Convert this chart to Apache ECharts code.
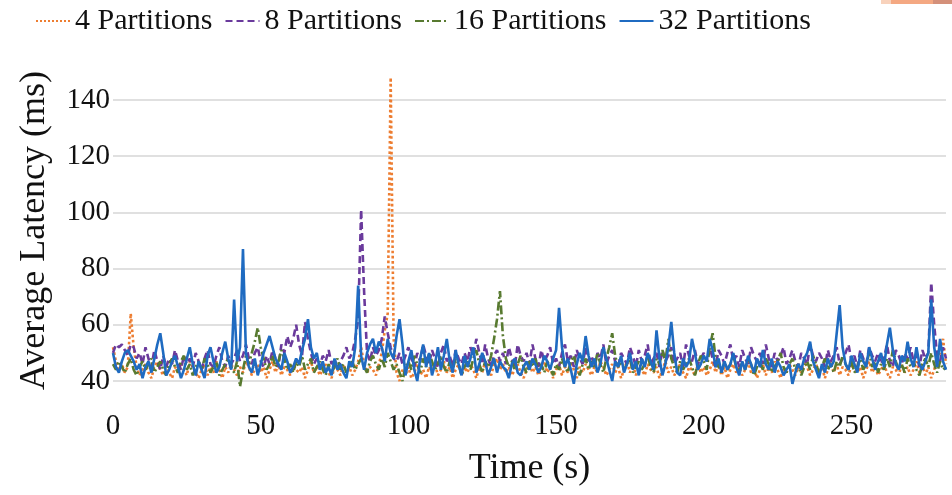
<!DOCTYPE html>
<html>
<head>
<meta charset="utf-8">
<script src="https://cdn.jsdelivr.net/npm/echarts@6/dist/echarts.min.js"></script>
<style>
  html, body { margin: 0; padding: 0; background: #fff; }
  #main { width: 952px; height: 495px; }
</style>
</head>
<body>
<div id="main"></div>
<script>
  // average latency per second (t = index in seconds)
  const p4 = [
    52, 47, 44, 46, 43, 45, 64, 52, 45, 42,
    44, 46, 43, 41, 45, 47, 44, 42, 46, 43,
    41, 45, 43, 46, 44, 42, 47, 45, 43, 41,
    44, 46, 42, 45, 43, 47, 44, 41, 45, 43,
    46, 44, 42, 45, 43, 47, 45, 42, 44, 46,
    43, 45, 41, 44, 47, 43, 46, 42, 45, 44,
    42, 46, 44, 43, 45, 41, 44, 47, 43, 45,
    42, 44, 46, 43, 41, 45, 44, 42, 46, 43,
    45, 42, 44, 47, 52, 46, 43, 45, 44, 42,
    46, 50, 58, 64, 148, 55, 43, 40, 44, 42,
    45, 41, 43, 46, 42, 44, 41, 45, 43, 46,
    42, 44, 47, 43, 45, 41, 44, 46, 42, 45,
    43, 46, 44, 41, 45, 43, 47, 44, 42, 46,
    48, 44, 46, 43, 45, 42, 44, 46, 43, 41,
    44, 46, 43, 45, 42, 44, 47, 43, 45, 41,
    44, 46, 42, 45, 43, 47, 44, 41, 45, 43,
    46, 44, 42, 45, 43, 47, 45, 42, 44, 46,
    43, 45, 41, 44, 47, 43, 46, 42, 45, 44,
    42, 46, 44, 43, 45, 41, 44, 47, 43, 45,
    42, 44, 46, 43, 41, 45, 44, 42, 46, 43,
    45, 42, 44, 47, 43, 46, 42, 45, 41, 44,
    46, 43, 45, 42, 44, 47, 43, 45, 41, 44,
    46, 42, 45, 43, 47, 44, 41, 45, 43, 46,
    44, 42, 45, 43, 47, 45, 42, 44, 46, 43,
    45, 41, 44, 47, 43, 46, 42, 45, 44, 42,
    46, 44, 43, 45, 41, 44, 47, 43, 45, 42,
    44, 46, 43, 41, 45, 44, 42, 46, 43, 45,
    42, 44, 47, 43, 46, 42, 45, 41, 44, 48,
    50, 55, 46
  ]
  const p8 = [
    50, 53, 52, 53, 51, 49, 53, 52, 48, 50,
    46, 52, 48, 45, 51, 47, 44, 49, 45, 48,
    46, 51, 47, 44, 49, 46, 48, 45, 50, 47,
    44, 48, 51, 46, 45, 49, 52, 47, 45, 49,
    46, 48, 51, 47, 49, 53, 48, 46, 50, 52,
    47, 45, 49, 46, 51, 48, 45, 53, 50, 56,
    52, 55, 60, 53, 49, 61, 55, 50, 46, 48,
    45, 49, 47, 51, 46, 48, 44, 47, 49, 52,
    48, 50, 55, 62, 101, 72, 50, 47, 52, 49,
    51, 55, 63, 57, 52, 48, 47, 50, 46, 49,
    52, 48, 45, 50, 47, 53, 49, 46, 51, 48,
    45, 50, 53, 47, 49, 45, 51, 48, 46, 50,
    47, 52, 49, 55, 50, 46, 53, 48, 45, 49,
    51, 47, 50, 46, 52, 48, 45, 53, 49, 47,
    50, 46, 53, 48, 45, 51, 47, 49, 52, 46,
    48, 45, 50, 53, 47, 49, 45, 51, 48, 46,
    52, 47, 49, 45, 50, 48, 53, 46, 49, 51,
    47, 45, 50, 48, 46, 52, 49, 45, 51, 47,
    49, 53, 46, 48, 50, 45, 51, 47, 49, 52,
    46, 48, 50, 45, 53, 49, 47, 51, 46, 48,
    50, 47, 52, 48, 45, 51, 49, 46, 50, 53,
    47, 49, 45, 51, 48, 46, 52, 49, 47, 50,
    46, 53, 48, 45, 50, 47, 49, 52, 46, 48,
    51, 47, 45, 50, 48, 46, 53, 49, 47, 50,
    48, 45, 51, 47, 49, 52, 46, 48, 50, 53,
    47, 49, 45, 51, 48, 46, 52, 49, 47, 50,
    46, 48, 53, 47, 45, 51, 49, 46, 50, 48,
    52, 47, 49, 45, 51, 48, 50, 75, 60, 49,
    47, 52, 48
  ]
  const p16 = [
    46, 44, 47, 45, 43, 46, 48, 44, 42, 45,
    47, 44, 46, 48, 43, 45, 47, 44, 42, 46,
    48, 45, 43, 47, 49, 44, 46, 42, 45, 47,
    44, 48, 46, 43, 45, 47, 42, 44, 46, 48,
    45, 43, 47, 38, 44, 49, 46, 50, 54, 59,
    52, 48, 44, 46, 49, 45, 47, 51, 48, 44,
    46, 43, 47, 45, 49, 44, 46, 48, 43, 45,
    47, 44, 42, 46, 43, 45, 48, 44, 46, 43,
    45, 47, 44, 46, 48, 45, 43, 47, 49, 46,
    44, 48, 45, 50, 47, 44, 46, 43, 40, 45,
    47, 44, 49, 46, 43, 48, 45, 50, 47, 44,
    46, 49, 45, 43, 47, 44, 48, 46, 42, 45,
    47, 44, 48, 51, 46, 43, 47, 45, 49, 55,
    62, 72, 56, 48, 45, 47, 44, 46, 49, 45,
    43, 47, 45, 48, 44, 46, 43, 47, 45, 42,
    46, 44, 48, 45, 43, 47, 49, 45, 42, 46,
    48, 44, 47, 45, 50, 46, 43, 48, 52, 57,
    49, 45, 47, 44, 46, 48, 43, 45, 47, 44,
    46, 49, 45, 43, 48, 46, 51, 47, 55, 48,
    45, 43, 47, 44, 46, 48, 45, 42, 46, 49,
    47, 44, 52, 57, 48, 45, 43, 47, 44, 46,
    49, 45, 43, 47, 44, 48, 46, 42, 45, 47,
    44, 48, 46, 43, 45, 47, 50, 45, 43, 46,
    48, 44, 46, 42, 45, 47, 44, 49, 46, 43,
    45, 48, 44, 46, 43, 47, 45, 49, 46, 44,
    47, 43, 45, 48, 44, 46, 50, 45, 47, 43,
    46, 44, 48, 45, 51, 47, 44, 46, 43, 48,
    45, 47, 44, 42, 46, 48, 45, 50, 46, 43,
    47, 44, 45
  ]
  const p32 = [
    50, 45, 43, 47, 50, 51, 49, 47, 44, 46,
    41, 45, 47, 43, 48, 53, 57, 50, 42, 44,
    47, 49, 45, 41, 44, 48, 52, 46, 42, 47,
    44, 41, 49, 52, 47, 43, 45, 50, 54, 48,
    44, 69, 47, 52, 87, 50, 45, 43, 48, 42,
    46, 50, 53, 56, 52, 48, 46, 44, 50, 47,
    43, 45, 48, 46, 51, 55, 62, 52, 48, 50,
    44, 47, 43, 45, 42, 48, 44, 46, 43, 41,
    47, 45, 52, 74, 49, 44, 50, 53, 55, 50,
    54, 52, 47, 55, 50, 48, 56, 62, 53, 42,
    47, 51, 44, 40, 48, 53, 45, 50, 42, 46,
    52, 44, 49, 55, 47, 43, 51, 46, 42, 49,
    45, 48, 52, 43, 46, 50, 47, 42, 45, 48,
    43, 47, 45, 44, 41, 46, 48, 43, 42, 45,
    47, 44, 48, 46, 43, 45, 49, 47, 44, 48,
    51, 66, 52, 45, 48, 44, 39, 46, 50, 47,
    56, 49, 45, 48, 43, 46, 52, 48, 44, 40,
    47, 45, 49, 43, 46, 50, 44, 47, 42, 48,
    45, 50, 47, 44, 58, 48, 42, 46, 52, 61,
    50, 43, 42, 48, 45, 47, 55, 50, 44, 46,
    49, 47, 55, 51, 45, 48, 43, 47, 44, 46,
    50, 45, 42, 47, 44, 49, 46, 43, 48, 45,
    51, 46, 44, 48, 43, 47, 45, 42, 44, 46,
    39, 43, 46, 44, 48, 50, 54, 47, 44, 41,
    46, 43, 48, 45, 47, 57, 67, 52, 46, 44,
    49, 46, 43, 50, 47, 45, 52, 48, 44, 47,
    50, 45, 53, 59, 51, 46, 44, 49, 47, 54,
    48, 45, 52, 46, 44, 47, 50, 69, 52, 45,
    55, 47, 44
  ]
  const seriesNames = ['4 Partitions', '8 Partitions', '16 Partitions', '32 Partitions']
  const yTicks = [40, 60, 80, 100, 120, 140]
  const xTicks = [0, 50, 100, 150, 200, 250]

  const font = "'Liberation Serif', 'Times New Roman', serif"
  const styles = [
    { color: '#ED7D31', type: 'dotted' },
    { color: '#6A3A9C', type: [7, 4] },
    { color: '#587A30', type: [9, 3, 2, 3] },
    { color: '#1F6BC1', type: 'solid' }
  ]
  const values = [p4, p8, p16, p32]

  const series = values.map((arr, k) => ({
    name: seriesNames[k],
    type: 'line',
    symbol: 'none',
    clip: false,
    data: arr.map((v, i) => [i, v]),
    lineStyle: { color: styles[k].color, width: 2.6, type: styles[k].type },
    itemStyle: { color: styles[k].color }
  }))

  const option = {
    animation: false,
    backgroundColor: '#fff',
    textStyle: { fontFamily: font },
    graphic: [
      { type: 'rect', shape: { x: 881, y: 0, width: 10, height: 4 }, style: { fill: '#F8D2BC' } },
      { type: 'rect', shape: { x: 891, y: 0, width: 42, height: 4 }, style: { fill: '#F4A882' } },
      { type: 'rect', shape: { x: 933, y: 0, width: 19, height: 4 }, style: { fill: '#D4907A' } }
    ],
    legend: {
      data: seriesNames,
      left: 30,
      top: 1,
      itemWidth: 34,
      itemHeight: 14,
      itemGap: 12,
      itemStyle: { opacity: 0 },
      textStyle: { fontFamily: font, fontSize: 30, color: '#111' }
    },
    grid: { left: 113, right: 6, top: 100, bottom: 114 },
    xAxis: {
      type: 'value',
      min: 0,
      max: 282,
      interval: 50,
      name: 'Time (s)',
      nameLocation: 'middle',
      nameGap: 70,
      nameTextStyle: { fontFamily: font, fontSize: 36, color: '#111' },
      axisLine: { show: false },
      axisTick: { show: false },
      splitLine: { show: false },
      axisLabel: {
        margin: 31,
        fontFamily: font,
        fontSize: 29,
        color: '#111',
        showMaxLabel: false,
        formatter: v => (xTicks.includes(v) ? String(v) : '')
      }
    },
    yAxis: {
      type: 'value',
      min: yTicks[0],
      max: yTicks[yTicks.length - 1],
      interval: 20,
      name: 'Average Latency (ms)',
      nameLocation: 'middle',
      nameGap: 60,
      nameTextStyle: { fontFamily: font, fontSize: 36, color: '#111', padding: [0, 0, 0, 20] },
      axisLine: { show: false },
      axisTick: { show: false },
      splitLine: { lineStyle: { color: '#D6D6D6', width: 1.5 } },
      axisLabel: { margin: 3, fontFamily: font, fontSize: 29, color: '#111' }
    },
    series: series
  }

  const myChart = echarts.init(document.getElementById('main'))
  myChart.setOption(option)
</script>
</body>
</html>
